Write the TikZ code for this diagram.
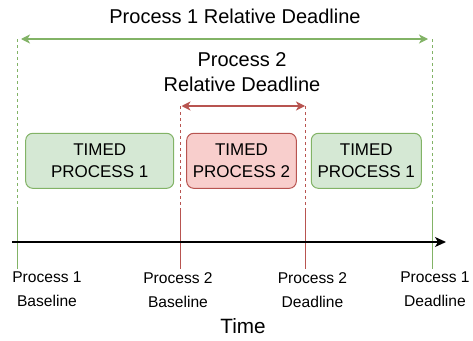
\documentclass[tikz,border=0pt]{standalone}
\usepackage{fontspec}
\setmainfont{Liberation Sans}
\usetikzlibrary{arrows.meta}
\definecolor{pgreen}{HTML}{82B366}
\definecolor{pgreenfill}{HTML}{D5E8D4}
\definecolor{pred}{HTML}{B85450}
\definecolor{predfill}{HTML}{F8CECC}

\begin{document}
\begin{tikzpicture}[x=1pt,y=-1pt,
        timedbox/.style={draw, line width=1pt, rounded corners=7pt, minimum height=55pt, inner sep=0pt, align=center, font=\fontsize{17}{21.5}\selectfont},
        ticktext/.style={anchor=north, inner sep=0pt, align=center, font=\fontsize{15.6}{24}\selectfont},
        relarrow/.style={line width=1.3pt, color=#1, {Stealth[length=9pt,width=9pt,inset=2.5pt]}-{Stealth[length=9pt,width=9pt,inset=2.5pt]}},
        marker/.style={line width=1pt, color=#1}]
        \useasboundingbox (0,0) rectangle (473,340);
        % marker lines (dashed above the boxes, solid round the axis)
        \coordinate (p1base-top) at (17,39);   \coordinate (p1base-mid) at (17,210);  \coordinate (p1base-bot) at (17,269);
        \coordinate (p2base-top) at (180,106); \coordinate (p2base-mid) at (180,211); \coordinate (p2base-bot) at (180,269);
        \coordinate (p2dead-top) at (305,106); \coordinate (p2dead-mid) at (305,211); \coordinate (p2dead-bot) at (305,269);
        \coordinate (p1dead-top) at (432,39);  \coordinate (p1dead-mid) at (432,210); \coordinate (p1dead-bot) at (432,269);
        \draw[marker=pgreen, dash pattern=on 3pt off 3pt] (p1base-top) -- (p1base-mid); \draw[marker=pgreen] (p1base-mid) -- (p1base-bot);
        \draw[marker=pred, dash pattern=on 3pt off 3pt] (p2base-top) -- (p2base-mid); \draw[marker=pred] (p2base-mid) -- (p2base-bot);
        \draw[marker=pred, dash pattern=on 3pt off 3pt] (p2dead-top) -- (p2dead-mid); \draw[marker=pred] (p2dead-mid) -- (p2dead-bot);
        \draw[marker=pgreen, dash pattern=on 3pt off 3pt] (p1dead-top) -- (p1dead-mid); \draw[marker=pgreen] (p1dead-mid) -- (p1dead-bot);
        % relative deadlines
        \node[anchor=base, font=\fontsize{20}{25}\selectfont] (p1rel) at (235,23) {Process 1 Relative Deadline};
        \draw[relarrow=pgreen] ([xshift=4pt]p1base-top) -- ([xshift=-4pt]p1dead-top);
        \node[anchor=north, inner sep=0pt, align=center, font=\fontsize{20}{25}\selectfont] (p2rel) at (242,52) {Process 2\\Relative Deadline};
        \draw[relarrow=pred] ([xshift=1.5pt]p2base-top) -- (p2dead-top);
        % timed processes
        \node[timedbox, draw=pgreen, fill=pgreenfill, minimum width=148pt] (tp1a) at (99.7,160.8) {TIMED\\PROCESS 1};
        \node[timedbox, draw=pred, fill=predfill, minimum width=109.6pt] (tp2) at (241.5,160.8) {TIMED\\PROCESS 2};
        \node[timedbox, draw=pgreen, fill=pgreenfill, minimum width=110pt] (tp1b) at (366.3,160.8) {TIMED\\PROCESS 1};
        % time axis
        \coordinate (tstart) at (12,242);
        \coordinate (tend) at (446,242);
        \draw[line width=1.4pt, -{Stealth[length=11pt,width=10pt,inset=3pt]}] (tstart) -- (tend);
        \node[ticktext] (p1baselbl) at (47,272) {Process 1\\Baseline};
        \node[ticktext] (p2baselbl) at (178,272) {Process 2\\Baseline};
        \node[ticktext] (p2deadlbl) at (312.5,272) {Process 2\\Deadline};
        \node[ticktext] (p1deadlbl) at (435,272) {Process 1\\Deadline};
        \node[anchor=base, font=\fontsize{20.7}{25}\selectfont] (timelbl) at (243,333) {Time};
    \end{tikzpicture}
\end{document}
